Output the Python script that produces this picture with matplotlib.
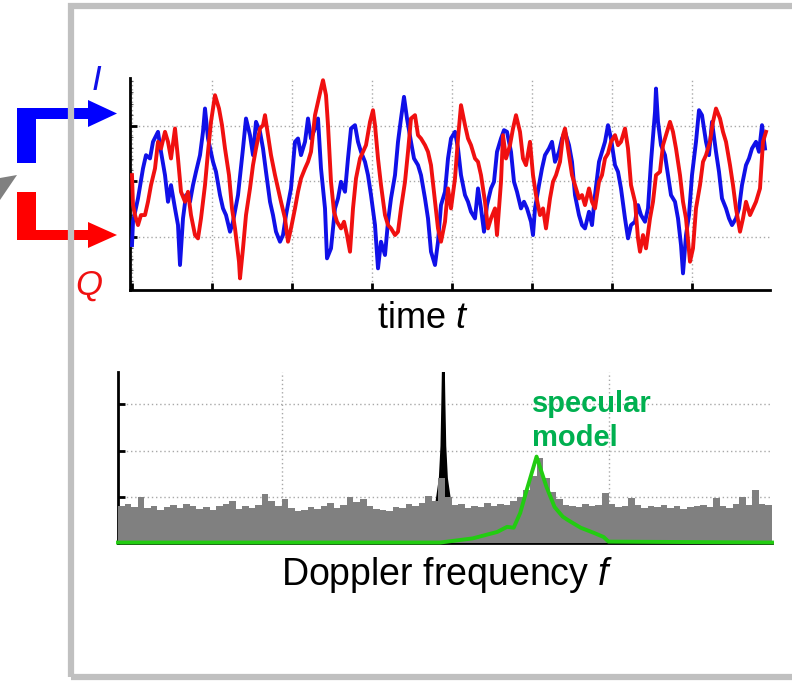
import numpy as np
import matplotlib.pyplot as plt
from matplotlib.patches import Rectangle, Polygon

plt.rcParams['font.family'] = ['Liberation Sans', 'DejaVu Sans']
plt.rcParams['mathtext.fontset'] = 'custom'
plt.rcParams['mathtext.rm'] = 'Liberation Sans'
plt.rcParams['mathtext.it'] = 'Liberation Sans:italic'

# ---- I/Q time series (time in samples, amplitude in grid units) ----
t_i = [0, 1, 6, 11, 14, 18, 21, 26, 29, 33, 36, 39, 43, 46, 48, 51, 54, 58, 61, 64,
       68, 71, 73, 76, 81, 84, 88, 91, 94, 98, 101, 106, 111, 114, 118, 121, 124, 128, 131, 134,
       138, 141, 144, 148, 151, 154, 159, 163, 166, 169, 173, 176, 179, 183, 186, 189, 193, 195, 199, 203,
       206, 209, 213, 216, 219, 223, 226, 229, 233, 236, 239, 243, 246, 249, 253, 256, 259, 263, 266, 269,
       272, 275, 279, 282, 286, 289, 293, 296, 299, 303, 306, 309, 313, 316, 319, 323, 326, 329, 333, 336,
       339, 343, 346, 349, 352, 355, 359, 362, 365, 369, 372, 375, 379, 382, 385, 389, 392, 395, 399, 401,
       403, 407, 410, 413, 417, 420, 423, 427, 430, 433, 437, 440, 443, 447, 450, 453, 457, 460, 463, 467,
       470, 473, 476, 479, 483, 486, 489, 493, 496, 499, 503, 506, 509, 513, 516, 519, 523, 524, 526, 529,
       533, 536, 539, 543, 546, 549, 551, 554, 557, 560, 564, 567, 570, 574, 577, 580, 584, 587, 590, 594,
       597, 600, 604, 607, 610, 614, 617, 620, 624, 627, 630, 633]
v_i = [-1.15, -0.73, -0.31, 0.23, 0.47, 0.41, 0.71, 0.89, 0.53, 0.11, -0.37, -0.07, -0.49, -0.79, -1.51, -0.67, -0.25, -0.37, -0.07, 0.17,
       0.47, 0.89, 1.31, 0.77, 0.35, 0.17, -0.25, -0.49, -0.61, -0.91, -0.73, -0.25, 0.59, 1.13, 0.83, 0.47, 1.07, 0.89, 0.59, 0.17,
       -0.37, -0.61, -0.91, -1.09, -0.97, -0.61, -0.13, 0.71, 0.77, 0.47, 0.71, 1.13, 0.77, 0.95, 1.13, 0.23, -0.49, -1.39, -1.21, -0.49,
       -0.31, -0.01, -0.19, 0.41, 0.95, 1.01, 0.71, 0.53, 0.35, 0.11, -0.25, -0.79, -1.57, -1.09, -1.33, -0.73, -0.31, 0.11, 0.71, 1.13,
       1.52, 1.13, 0.71, 0.41, 0.29, 0.11, -0.31, -0.67, -1.27, -1.51, -1.09, -0.43, -0.19, 0.41, 0.77, 0.89, 0.59, 0.11, -0.25, -0.37,
       -0.55, -0.67, -0.13, -0.49, -0.91, -0.43, -0.13, -0.01, 0.53, 0.77, 0.92, 0.89, 0.53, -0.01, -0.19, -0.49, -0.37, -0.49, -0.73, -0.97,
       -0.49, -0.07, 0.23, 0.47, 0.59, 0.71, 0.35, 0.53, 0.77, 0.89, 0.65, 0.35, -0.25, -0.61, -0.79, -0.85, -0.55, -0.79, -0.25, 0.35,
       0.53, 0.71, 1.01, 0.77, 0.29, 0.17, -0.13, -0.67, -1.03, -0.79, -0.73, -0.43, -0.61, -0.73, -0.49, 0.35, 1.25, 1.67, 1.07, 0.65,
       0.47, 0.11, -0.25, -0.37, -0.67, -1.15, -1.66, -0.97, -0.61, 0.11, 0.71, 1.28, 1.19, 0.71, 0.47, 1.07, 0.53, 0.17, -0.31, -0.49,
       -0.67, -0.79, -0.67, -0.49, -0.07, 0.29, 0.41, 0.59, 0.71, 0.53, 1.01, 0.59]

t_q = [0, 1, 3, 6, 9, 13, 16, 19, 23, 26, 29, 33, 36, 39, 43, 46, 49, 53, 56, 59,
       63, 66, 69, 73, 76, 79, 83, 87, 90, 93, 97, 100, 103, 107, 108, 111, 114, 118, 121, 124,
       128, 131, 133, 136, 139, 143, 146, 149, 153, 156, 159, 163, 166, 169, 173, 176, 179, 183, 186, 189,
       191, 194, 196, 199, 202, 205, 209, 212, 215, 218, 221, 224, 228, 231, 234, 238, 241, 243, 246, 249,
       253, 256, 259, 263, 266, 269, 273, 276, 279, 283, 286, 289, 293, 296, 299, 303, 306, 309, 313, 316,
       319, 323, 326, 329, 333, 336, 339, 343, 346, 349, 353, 356, 359, 363, 365, 369, 371, 374, 378, 381,
       384, 388, 391, 394, 398, 401, 404, 408, 411, 414, 418, 421, 424, 428, 431, 433, 437, 440, 443, 447,
       450, 453, 457, 460, 463, 467, 470, 473, 476, 479, 483, 486, 489, 493, 496, 499, 503, 506, 508, 511,
       514, 518, 521, 524, 528, 531, 534, 538, 541, 544, 548, 551, 554, 558, 561, 564, 568, 571, 574, 578,
       581, 584, 588, 591, 594, 598, 601, 604, 608, 611, 614, 618, 621, 624, 628, 631, 634]
v_q = [0.11, -0.43, -0.61, -0.79, -0.61, -0.61, -0.37, -0.07, 0.23, 0.71, 0.59, 0.89, 0.71, 0.41, 0.95, 0.41, -0.19, -0.37, -0.19, -0.61,
       -0.97, -1.03, -0.67, -0.07, 0.53, 1.07, 1.55, 1.31, 1.01, 0.59, 0.11, -0.49, -0.85, -1.45, -1.75, -1.21, -0.61, -0.13, 0.29, 0.59,
       0.95, 1.01, 1.19, 0.83, 0.47, 0.11, -0.13, -0.37, -0.67, -1.09, -0.85, -0.49, -0.19, 0.05, 0.23, 0.35, 0.53, 1.19, 1.43, 1.67,
       1.82, 1.55, 1.01, -0.01, -0.55, -0.73, -0.85, -0.73, -0.97, -1.27, -0.49, 0.05, 0.41, 0.53, 0.65, 1.07, 1.28, 1.01, 0.41, -0.07,
       -0.61, -0.79, -0.85, -0.97, -0.91, -0.49, -0.01, 0.53, 1.13, 1.19, 0.83, 0.77, 0.65, 0.53, 0.29, -0.37, -0.85, -1.09, -0.73, -0.13,
       -0.49, 0.05, 0.77, 1.37, 1.01, 0.77, 0.65, 0.41, 0.35, 0.11, -0.37, -0.85, -0.67, -0.49, -0.97, -0.01, 0.83, 0.41, 0.65, 0.95,
       1.19, 0.89, 0.41, 0.29, 0.71, 0.11, -0.25, -0.61, -0.49, -0.85, -0.31, -0.01, 0.11, 0.35, 0.83, 0.95, 0.47, 0.11, -0.07, -0.31,
       -0.25, -0.43, -0.13, -0.37, -0.49, -0.01, 0.11, 0.41, 0.5, 0.71, 0.83, 0.65, 0.71, 0.95, 0.59, -0.07, -0.37, -1.03, -1.27, -0.97,
       -1.21, -0.67, -0.37, 0.11, 0.17, 0.65, 0.83, 1.07, 0.89, 0.59, 0.11, -0.37, -0.67, -1.45, -1.21, -0.49, -0.07, 0.35, 0.47, 0.71,
       1.07, 1.31, 1.13, 0.89, 0.71, 0.29, -0.07, -0.49, -0.91, -0.67, -0.37, -0.61, -0.49, -0.37, -0.13, 0.71, 0.89]

# ---- Doppler spectrum (frequency bins of width 4, power in grid units) ----
spec_f0 = -200
spec_bw = 4
spec_gray = [0.80, 0.85, 0.78, 1.00, 0.75, 0.80, 0.72, 0.78, 0.82, 0.76,
             0.85, 0.80, 0.74, 0.78, 0.72, 0.80, 0.84, 0.90, 0.74, 0.80,
             0.76, 0.82, 1.05, 0.90, 0.80, 0.95, 0.75, 0.70, 0.72, 0.78,
             0.74, 0.80, 0.86, 0.76, 0.82, 1.00, 0.88, 0.96, 0.80, 0.74,
             0.72, 0.70, 0.78, 0.76, 0.84, 0.80, 0.86, 1.02, 0.90, 1.40,
             1.00, 0.82, 0.85, 0.76, 0.80, 0.78, 0.86, 0.80, 0.84, 0.82,
             0.90, 1.00, 1.15, 1.45, 1.85, 1.40, 1.10, 0.95, 0.82, 0.80,
             0.78, 0.84, 0.80, 0.82, 1.08, 0.85, 0.78, 0.80, 0.98, 0.82,
             0.76, 0.80, 0.78, 0.82, 0.76, 0.80, 0.74, 0.78, 0.80, 0.82,
             0.78, 0.97, 0.80, 0.76, 0.84, 1.00, 0.82, 1.15, 0.84, 0.82]
f_black = [-5, -3, -2, -1.5, -1, -0.5, 0, 1, 3]
p_black = [0.9, 1.4, 2.1, 3.0, 4.0, 3.0, 2.1, 1.4, 0.9]
f_model = [-200, -3, 17, 32, 38, 42, 46, 50, 56, 62, 67, 72, 75, 83, 91, 97, 100, 200]
p_model = [0.01, 0.01, 0.10, 0.24, 0.35, 0.33, 0.65, 1.15, 1.87, 1.22, 0.78, 0.57, 0.50, 0.33, 0.22, 0.13, 0.03, 0.01]

W, H = 792, 681
fig = plt.figure(figsize=(W / 100, H / 100), dpi=100)


def fx(x):
    return x / W


def fy(y):
    return 1 - y / H


grid_kw = dict(color='#a8a8a8', linestyle=(0, (1, 2)), linewidth=1.0)

# top: I/Q signals
ax1 = fig.add_axes([fx(130), fy(290), fx(770) - fx(130), fy(78) - fy(290)])
ax1.plot(t_i, v_i, color='#1010e8', lw=2.8, zorder=3)
ax1.plot(t_q, v_q, color='#f01010', lw=2.8, zorder=4)
ax1.set_xlim(-2, 638)
ax1.set_ylim(-1.96, 1.86)
ax1.set_xticks(np.arange(0, 561, 80))
ax1.set_yticks([-1, 0, 1])
ax1.set_yticks(np.arange(-1.8, 1.81, 0.2), minor=True)
ax1.grid(True, **grid_kw)
ax1.tick_params(direction='in', length=5, width=2, labelbottom=False, labelleft=False)
ax1.tick_params(which='minor', direction='in', length=2, width=0.8, color='#606060')
for s in ['top', 'right']:
    ax1.spines[s].set_visible(False)
for s in ['left', 'bottom']:
    ax1.spines[s].set_linewidth(2)
ax1.set_facecolor('none')

# bottom: Doppler spectrum
ax2 = fig.add_axes([fx(118), fy(543), fx(772) - fx(118), fy(372) - fy(543)])
edges = spec_f0 + spec_bw * np.arange(len(spec_gray))
ax2.fill_between(f_black, 0, p_black, color='black', lw=0, zorder=2)
ax2.plot(f_black, p_black, color='black', lw=1.8, zorder=2)
ax2.bar(edges, spec_gray, width=spec_bw, align='edge', color='#808080', lw=0, zorder=3)
ax2.plot(f_model, p_model, color='#22cc11', lw=2.8, zorder=4, clip_on=False)
ax2.set_xlim(-200, 200)
ax2.set_ylim(0, 3.7)
ax2.set_xticks([-100, 100])
ax2.set_yticks([1, 2, 3])
ax2.grid(True, **grid_kw)
ax2.set_axisbelow(True)
ax2.tick_params(direction='in', length=5, width=2, labelbottom=False, labelleft=False)
for s in ['top', 'right']:
    ax2.spines[s].set_visible(False)
for s in ['left', 'bottom']:
    ax2.spines[s].set_linewidth(2)
ax2.text(56 - 3, 2.64, 'specular\nmodel', color='#00b050', fontsize=21, fontweight='bold',
         ha='left', va='center', linespacing=1.3, zorder=5)

# labels
fig.text(fx(423), fy(318), 'time $t$', fontsize=26, ha='center', va='center')
fig.text(fx(447), fy(575), 'Doppler frequency $f$', fontsize=27, ha='center', va='center')
fig.text(fx(96), fy(80), 'I', fontsize=25, color='#1010e8', style='italic', ha='center', va='center')
fig.text(fx(89), fy(285), 'Q', fontsize=25, color='#f01010', style='italic', ha='center', va='center')

# I / Q arrows
blue_pts = [(17, 163), (17, 108), (88, 108), (88, 100), (117, 113.5), (88, 127), (88, 119), (36, 119), (36, 163)]
red_pts = [(17, 192), (36, 192), (36, 230), (88, 230), (88, 222), (117, 235), (88, 248), (88, 240), (17, 240)]
gray_pts = [(0, 178), (17, 175), (0, 200)]
for pts, col in [(blue_pts, '#0000ff'), (red_pts, '#ff0000'), (gray_pts, '#808080')]:
    fig.add_artist(Polygon([(fx(x), fy(y)) for x, y in pts], closed=True, fc=col, ec='none',
                           transform=fig.transFigure, zorder=3))

# surrounding frame
fig.add_artist(Rectangle((fx(70.5), fy(677)), fx(800) - fx(70.5), fy(5.5) - fy(677), fill=False,
                         ec='#c0c0c0', lw=4.5, transform=fig.transFigure, zorder=6))

fig.savefig('out.png', dpi=100)
